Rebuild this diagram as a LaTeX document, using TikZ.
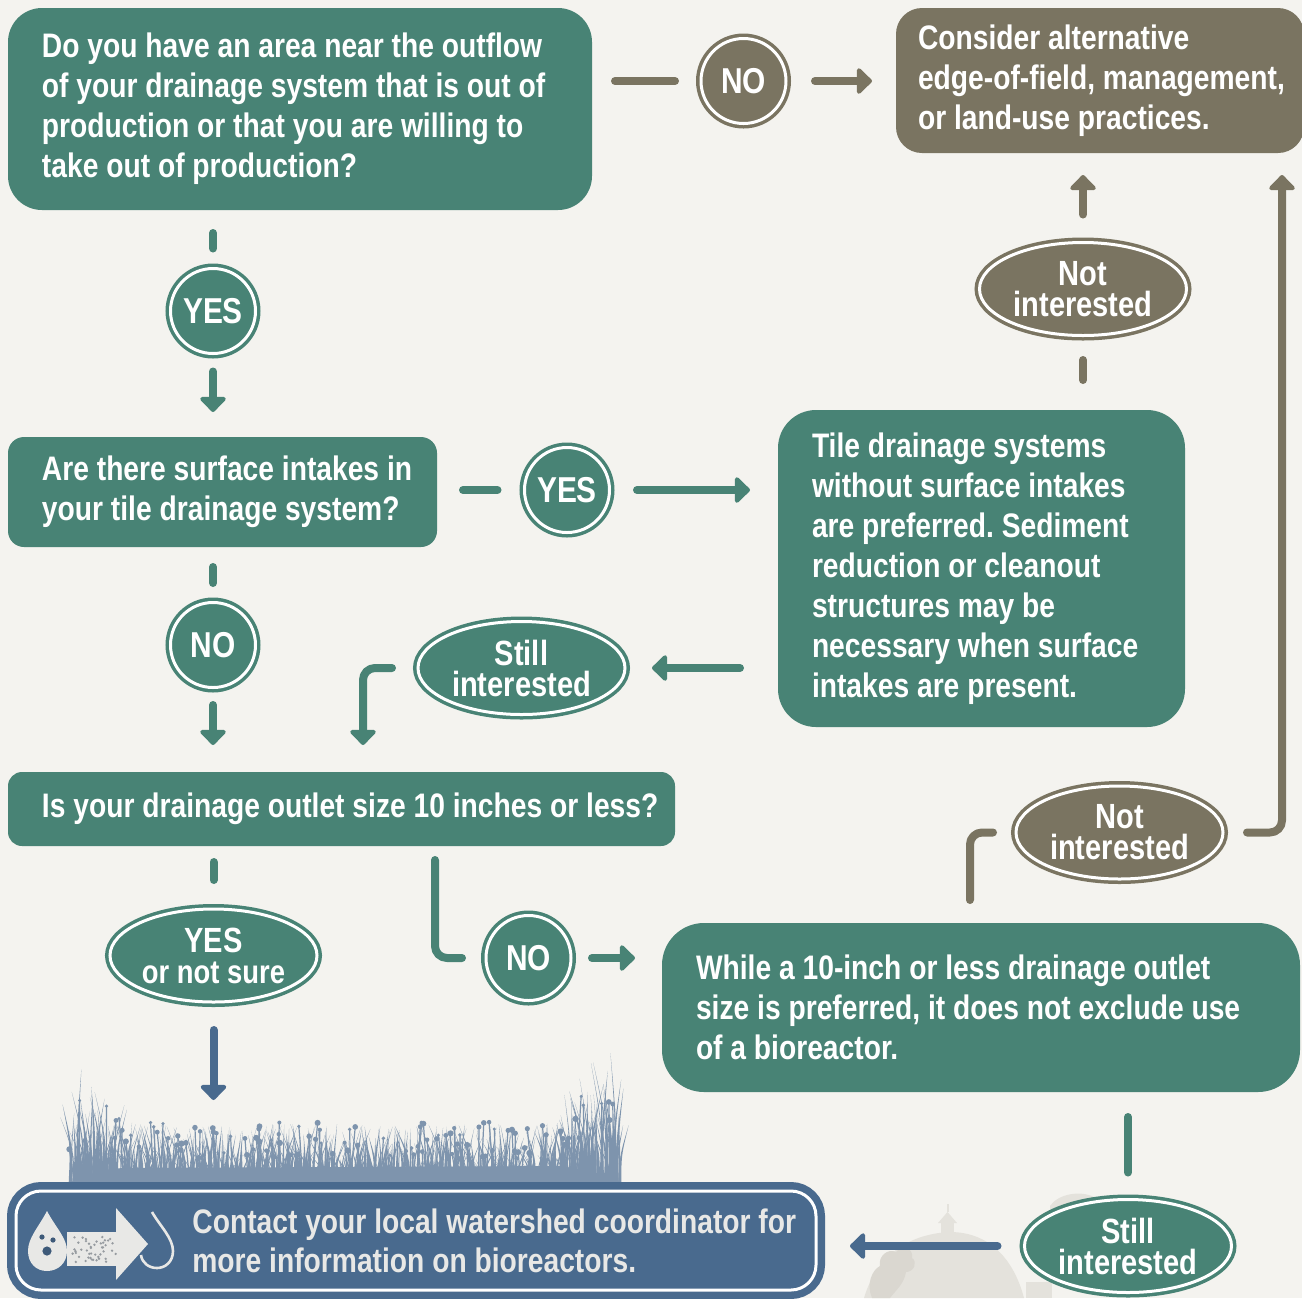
\documentclass[tikz,border=0pt]{standalone}
\usepackage{fontspec}
\setmainfont{Liberation Sans}[FakeStretch=0.83]
\usetikzlibrary{arrows.meta,shapes.geometric,calc}
\frenchspacing

\definecolor{paper}{RGB}{244,243,239}
\definecolor{flowteal}{RGB}{72,131,117}
\definecolor{flowbrown}{RGB}{122,116,97}
\definecolor{flowblue}{RGB}{73,106,142}
\definecolor{grassblue}{RGB}{126,148,173}
\definecolor{farmgray}{RGB}{228,226,220}
\definecolor{farmdark}{RGB}{218,215,208}
\definecolor{softwhite}{RGB}{232,232,230}
\definecolor{speck}{RGB}{150,155,160}

\newcommand\fcBox{\bfseries\fontsize{17}{20}\selectfont}
\newcommand\fcBadge{\bfseries\fontsize{18}{18}\selectfont}
\newcommand\fcOval{\bfseries\fontsize{17.5}{15.5}\selectfont}
\newcommand\fcOvalSmall{\bfseries\fontsize{16.5}{15.5}\selectfont}
\newcommand\fcContact{\bfseries\fontsize{17}{19.5}\selectfont}
% left indent of a box text, lines kept at their natural spacing
\newcommand\fcIndent[1]{\leftskip=#1\rightskip=0pt plus 1fil\spaceskip=0pt\relax}

\begin{document}
\begin{tikzpicture}[x=0.5pt,y=-0.5pt,
  qbox/.style={rectangle, rounded corners=#1, text=white, align=left,
    anchor=north west, inner xsep=5pt, inner ysep=0pt, outer sep=0pt, font=\fcBox},
  badge/.style={circle, fill=#1, draw=white, line width=1.5pt,
    preaction={draw=#1, line width=5pt}, minimum size=42.5pt,
    inner sep=0pt, outer sep=0pt, text=white, font=\fcBadge},
  oval/.style={ellipse, fill=#1, draw=white, line width=1.5pt,
    preaction={draw=#1, line width=5pt}, minimum width=103.5pt,
    minimum height=46.5pt, inner sep=0pt, outer sep=0pt, text=white,
    align=center, font=\fcOval},
  link/.style={draw=#1, line width=4pt, line cap=round, line join=round,
    rounded corners=6pt},
  arr/.style={link=#1, -{Triangle[width=15pt,length=8pt,round]}},
]

% paper
\fill[paper] (0,0) rectangle (1302,1298);
\useasboundingbox (0,0) rectangle (1302,1298);

% faint farmstead behind the lower right corner
\fill[farmgray] (864,1298) .. controls (876,1258) and (906,1234) .. (950,1232)
  .. controls (990,1232) and (1014,1260) .. (1024,1298) -- cycle;
\fill[farmgray] (941,1236) rectangle (954,1222);
\fill[farmgray] (938,1223) -- (947.5,1212) -- (957,1223) -- cycle;
\draw[farmgray, line width=1pt] (947.5,1212) -- (947.5,1204);
\fill[farmgray] (1026,1298) rectangle (1052,1282);
\fill[farmgray] (1050,1206) .. controls (1058,1194) and (1080,1190) .. (1094,1197) -- (1094,1212) -- (1050,1212) -- cycle;
\fill[farmdark] (872,1298) .. controls (866,1284) and (872,1270) .. (880,1266)
  .. controls (878,1256) and (888,1248) .. (896,1252)
  .. controls (902,1244) and (914,1248) .. (912,1258)
  .. controls (918,1262) and (914,1272) .. (906,1272)
  .. controls (904,1284) and (896,1290) .. (890,1298) -- cycle;

% meadow silhouette above the contact panel
\pgfmathsetseed{11}
\fill[grassblue] (62,1187) .. controls (80,1176) and (100,1170) .. (122,1168)
  -- (560,1166) .. controls (590,1170) and (612,1176) .. (628,1187) -- cycle;
\foreach \i in {1,...,560}{
  \pgfmathsetmacro\bx{70+550*rnd}
  \pgfmathsetmacro\edge{max(0,140-\bx)+max(0,\bx-540)}
  \pgfmathsetmacro\bh{22+40*rnd+\edge*1.05*rnd}
  \pgfmathsetmacro\lean{(rnd-0.5)*26}
  \pgfmathsetmacro\bw{0.8+1.3*rnd}
  \fill[grassblue] (\bx-\bw,1186) .. controls (\bx,1186-0.5*\bh) .. (\bx+\lean,1186-\bh)
    .. controls (\bx+\bw,1186-0.5*\bh) .. (\bx+\bw,1186) -- cycle;
}
\foreach \i in {1,...,110}{
  \pgfmathsetmacro\bx{72+545*rnd}
  \pgfmathsetmacro\edge{max(0,140-\bx)+max(0,\bx-540)}
  \pgfmathsetmacro\bh{28+36*rnd+\edge*0.95*rnd}
  \pgfmathsetmacro\lean{(rnd-0.5)*12}
  \pgfmathsetmacro\fr{1.6+1.6*rnd}
  \draw[grassblue, line width=0.6pt] (\bx,1186) -- (\bx+\lean,1186-\bh);
  \fill[grassblue] (\bx+\lean,1186-\bh) circle (\fr);
}

% question and answer boxes
\node[qbox=17pt, fill=flowteal, text width=282pt, minimum height=101pt] (q1) at (8,8)
  {\fcIndent{12pt}Do you have an area near the outflow\\
   of your drainage system that is out of\\
   production or that you are willing to\\
   take out of production?\par};
\node[qbox=13pt, fill=flowbrown, text width=194pt, minimum height=72.5pt] (alt) at (896,8)
  {\fcIndent{6pt}Consider alternative\\
   edge-of-field, management,\\
   or land-use practices.\par};
\node[qbox=8pt, fill=flowteal, text width=204.5pt, minimum height=55pt] (q2) at (8,437)
  {\fcIndent{12pt}Are there surface intakes in\\
   your tile drainage system?\par};
\node[qbox=19pt, fill=flowteal, text width=193.5pt, minimum height=158.5pt] (t3) at (778,410)
  {\fcIndent{12pt}Tile drainage systems\\
   without surface intakes\\
   are preferred. Sediment\\
   reduction or cleanout\\
   structures may be\\
   necessary when surface\\
   intakes are present.\par};
\node[qbox=7pt, fill=flowteal, text width=323.5pt, minimum height=37pt] (q4) at (8,772)
  {\fcIndent{12pt}\mbox{Is your drainage outlet size 10 inches or less?}\par};
\node[qbox=21pt, fill=flowteal, text width=309pt, minimum height=84.5pt] (t5) at (662,923)
  {\fcIndent{12pt}While a 10-inch or less drainage outlet\\
   size is preferred, it does not exclude use\\
   of a bioreactor.\par};

% answer badges
\node[badge=flowbrown] (no1) at (743.5,81) {NO};
\node[badge=flowteal] (yes1) at (213,311) {YES};
\node[badge=flowteal] (yes2) at (567,490) {YES};
\node[badge=flowteal] (no2) at (213,645) {NO};
\node[badge=flowteal] (no3) at (528.5,958) {NO};
\node[oval=flowbrown] (ni1) at (1083,289) {Not\\interested};
\node[oval=flowteal] (si1) at (521.5,668) {Still\\interested};
\node[oval=flowteal] (yns) at (213.5,955.5) {YES\\{\fcOvalSmall or not sure}};
\node[oval=flowbrown] (ni2) at (1119.5,832.5) {Not\\interested};
\node[oval=flowteal] (si2) at (1128,1246) {Still\\interested};

% contact panel
\node[rectangle, rounded corners=12.5pt, fill=flowblue, draw=white, line width=1.5pt,
  preaction={draw=flowblue, line width=9pt}, minimum width=400pt, minimum height=49.5pt,
  inner sep=0pt, outer sep=0pt] (act) at (416,1240.5) {};
\node[anchor=west, text=softwhite, font=\fcContact, align=left, inner sep=0pt] (acttext)
  at (192,1241) {Contact your local watershed coordinator for\\more information on bioreactors.};

% bioreactor icon: dirty drop, filter arrow, clean drop
\draw[softwhite, line width=1.3pt] (152,1212) .. controls (160,1226) and (173,1238) .. (173,1251)
  .. controls (173,1262) and (165,1268) .. (157,1268)
  .. controls (149,1268) and (142,1263) .. (141,1255);
\fill[softwhite] (67,1232) rectangle (121,1266);
\fill[softwhite] (116,1208) -- (148,1244) -- (116,1280) -- cycle;
\pgfmathsetseed{5}
\foreach \i in {1,...,45}{
  \pgfmathsetmacro\sx{72+44*rnd}
  \pgfmathsetmacro\sy{1236+26*rnd}
  \fill[speck] (\sx,\sy) circle (1.3);
}
\fill[softwhite] (47,1211) .. controls (56,1228) and (67,1238) .. (67,1251)
  .. controls (67,1263) and (58,1271) .. (47,1271)
  .. controls (36,1271) and (28,1263) .. (28,1251)
  .. controls (28,1238) and (38,1228) .. (47,1211) -- cycle;
\fill[flowblue!85!black] (42,1237) circle (2.6) (53,1240) circle (2.6) (47,1251) circle (4.6);

% connectors
\draw[link=flowbrown] ($(q1.east |- no1.center)+(23,0)$) -- ($(no1.west)+(-26,0)$);
\draw[arr=flowbrown] ($(no1.east)+(29,0)$) -- ($(alt.west |- no1.center)+(-24,0)$);

\draw[link=flowteal] ($(q1.south -| yes1.center)+(0,23)$) -- ($(yes1.north)+(0,-20)$);
\draw[arr=flowteal] ($(yes1.south)+(0,18)$) -- ($(q2.north -| yes1.center)+(0,-25)$);

\draw[link=flowteal] ($(q2.east |- yes2.center)+(26,0)$) -- ($(yes2.west)+(-27,0)$);
\draw[arr=flowteal] ($(yes2.east)+(27.5,0)$) -- ($(t3.west |- yes2.center)+(-28,0)$);

\draw[link=flowteal] ($(q2.south -| no2.center)+(0,20)$) -- ($(no2.north)+(0,-19.5)$);
\draw[arr=flowteal] ($(no2.south)+(0,17.5)$) -- ($(q4.north -| no2.center)+(0,-27)$);

\draw[arr=flowteal] ($(t3.west |- si1.center)+(-38,0)$) -- ($(si1.east)+(27,0)$);
\draw[arr=flowteal] ($(si1.west)+(-26,0)$) -| ($(q4.north -| si1.west)+(-55,-27)$);

\draw[link=flowbrown] ($(t3.north -| ni1.center)+(0,-30)$) -- ($(ni1.south)+(0,24.5)$);
\draw[arr=flowbrown] ($(ni1.north)+(0,-28)$) -- ($(alt.south -| ni1.center)+(0,22)$);

\draw[link=flowteal] ($(q4.south -| yns.center)+(0,16)$) -- ($(yns.north)+(0,-29)$);
\draw[arr=flowblue] ($(yns.south)+(0,28)$) -- ($(act.north -| yns.center)+(0,-91)$);

\draw[link=flowteal] ($(q4.south east)+(-240,14)$) |- ($(no3.west)+(-24,0)$);
\draw[arr=flowteal] ($(no3.east)+(21,0)$) -- ($(t5.west |- no3.center)+(-27,0)$);

\draw[link=flowbrown] ($(t5.north -| ni2.west)+(-46,-23)$) |- ($(ni2.west)+(-23,0)$);
\draw[arr=flowbrown] ($(ni2.east)+(24,0)$) -| ($(alt.south east)+(-22,22)$);

\draw[link=flowteal] ($(t5.south -| si2.center)+(0,25)$) -- ($(si2.north)+(0,-27)$);
\draw[arr=flowblue] ($(si2.west)+(-27,0)$) -- ($(act.east |- si2.center)+(34,0)$);

\end{tikzpicture}
\end{document}
